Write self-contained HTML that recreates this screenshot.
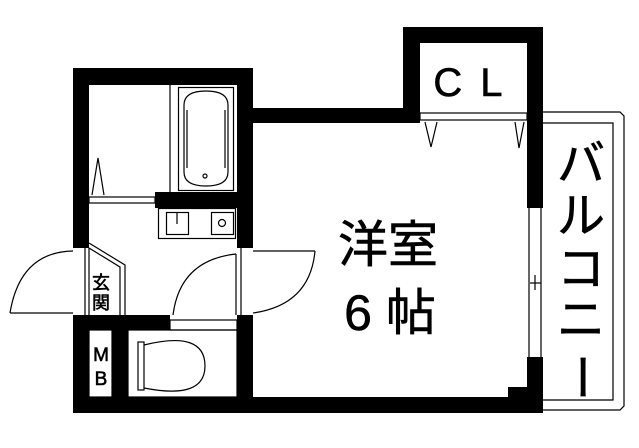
<!DOCTYPE html>
<html><head><meta charset="utf-8"><style>
html,body{margin:0;padding:0;background:#fff;width:639px;height:448px;overflow:hidden}
svg{display:block}
text{font-family:"Liberation Sans","Noto Sans CJK JP",sans-serif;fill:#000;stroke:#000;stroke-width:0.6}
</style></head><body>
<svg width="639" height="448" viewBox="0 0 639 448" xmlns="http://www.w3.org/2000/svg">
<g fill="#000">
<rect x="73" y="68" width="16" height="180"/>
<rect x="73" y="315" width="16" height="98"/>
<rect x="73" y="68" width="180" height="17"/>
<rect x="237" y="68" width="16" height="180"/>
<rect x="237" y="315" width="16" height="98"/>
<rect x="237" y="108" width="183" height="15"/>
<rect x="403" y="27" width="17" height="96"/>
<rect x="403" y="27" width="140" height="16"/>
<rect x="527" y="27" width="16" height="181"/>
<rect x="527" y="357" width="16" height="56"/>
<rect x="508" y="387" width="35" height="26"/>
<rect x="73" y="397" width="470" height="16"/>
<rect x="155" y="192" width="82" height="16"/>
<rect x="73" y="315" width="97" height="15"/>
<rect x="112" y="315" width="16" height="98"/>
</g>
<g fill="none" stroke="#000" stroke-width="1.2">
<line x1="170" y1="85" x2="170" y2="192"/>
<rect x="89" y="197" width="66" height="6"/>
<rect x="178.5" y="87.5" width="55" height="103"/>
<path d="M184 105 Q184 91 206 91 Q228 91 228 105 L228 172 Q228 186 206 186 Q184 186 184 172 Z"/>
<path d="M187 110 L187 168 M225 110 L225 168"/>
<circle cx="205" cy="176" r="2"/>
<path d="M92 195 L98 158 L104 195"/>
<rect x="158.5" y="208.5" width="77" height="30"/>
<rect x="166.5" y="212.5" width="22" height="22"/>
<line x1="177" y1="212" x2="177" y2="224"/>
<rect x="211.5" y="212.5" width="22" height="22"/>
<circle cx="222" cy="223" r="3.5"/>
<line x1="85" y1="248" x2="85" y2="315"/>
<line x1="89" y1="248" x2="89" y2="315"/>
<path d="M89 243 L125 265 L125 315"/>
<path d="M89 248 L120 267 L120 315"/>
<line x1="10" y1="313" x2="73" y2="313"/>
<path d="M73 251 Q20 252 10 313"/>
<line x1="236" y1="254" x2="236" y2="315"/>
<path d="M236 254 Q180 260 173 315"/>
<rect x="170" y="320" width="67" height="10"/>
<line x1="241" y1="248" x2="241" y2="315"/>
<line x1="253" y1="251" x2="315" y2="251"/>
<path d="M315 251 Q310 305 253 313"/>
<rect x="89" y="330" width="23" height="67"/>
<rect x="128" y="330" width="109" height="67"/>
<rect x="138" y="342" width="6" height="48"/>
<path d="M144 345 Q205 330 205 366 Q205 400 144 388"/>
<rect x="420" y="113" width="107" height="7"/>
<path d="M425 122 L431 147 L437 122"/>
<path d="M515 122 L519 148 L524 122"/>
<line x1="529" y1="208" x2="529" y2="357"/>
<line x1="541" y1="208" x2="541" y2="357"/>
<line x1="535" y1="275" x2="535" y2="290"/>
<line x1="530" y1="283" x2="541" y2="283"/>
<path d="M543 112 L620 112 L624 116 L624 406 L620 410 L543 410"/>
<path d="M543 123 L613 123 L613 400 L543 400"/>
</g>
<text x="101" y="289" font-size="18" text-anchor="middle">玄</text>
<text x="101" y="309" font-size="18" text-anchor="middle">関</text>
<text x="101" y="361" font-size="19" text-anchor="middle" stroke-width="0">M</text>
<text x="101" y="385" font-size="19" text-anchor="middle" stroke-width="0">B</text>
<text x="477" y="96" font-size="40" text-anchor="middle" letter-spacing="18">CL</text>
<text x="388" y="262" font-size="50" text-anchor="middle">洋室</text>
<text x="390" y="330" font-size="50" text-anchor="middle" xml:space="preserve">6 帖</text>
<g font-size="48" text-anchor="middle">
<text x="581" y="180">バ</text>
<text x="581" y="232">ル</text>
<text x="581" y="285">コ</text>
<text x="581" y="336">ニ</text>
<text x="581" y="393" transform="rotate(90 581 377)">ー</text>
</g>
</svg>
</body></html>
